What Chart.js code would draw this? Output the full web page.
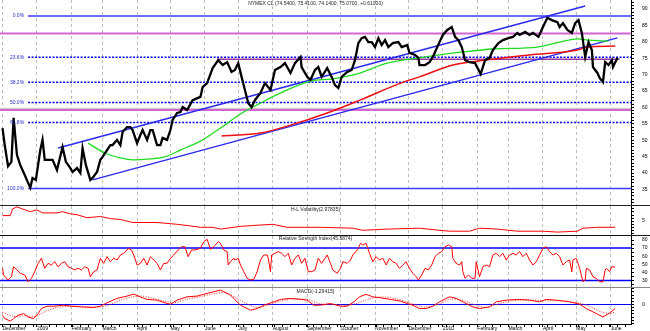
<!DOCTYPE html>
<html lang="en">
<head>
  <meta charset="UTF-8">
  <title>NYMEX CL</title>
  <script src="https://cdn.jsdelivr.net/npm/chart.js"></script>
  <style>
    body { margin: 0; background: #fff; }
    #wrap { position: relative; width: 650px; height: 331px; }
    .panel { position: absolute; left: 0; width: 650px; }
  </style>
</head>
<body>
<div id="wrap">
  <div class="panel" style="top:0;height:206px"><canvas id="priceChart"></canvas></div>
  <div class="panel" style="top:206px;height:30px"><canvas id="volChart"></canvas></div>
  <div class="panel" style="top:236px;height:52px"><canvas id="rsiChart"></canvas></div>
  <div class="panel" style="top:288px;height:43px"><canvas id="macdChart"></canvas></div>
</div>

<script>
  // x unit: calendar days since 1 Dec 2008
  const monthDays = [0, 31, 62, 90, 121, 151, 182, 212, 243, 274, 304, 335, 365, 396, 427, 455, 486, 516, 547];
  const monthLabels = ['December', '2009', 'February', 'March', 'April', 'May', 'June', 'July', 'August',
    'September', 'October', 'November', 'December', '2010', 'February', 'March', 'April', 'May', 'June'];

  const priceDays = [0,2,5,8,10,13,16,20,23,25,27,30,34,36,38,43,45,49,54,57,61,63,67,70,72,75,79,81,85,88,90,94,97,99,103,106,108,112,115,117,121,124,126,130,133,135,139,142,144,148,151,153,157,160,162,166,171,178,180,184,189,194,198,202,206,209,212,215,218,221,224,227,232,236,241,245,250,254,259,263,268,269,274,277,281,284,287,292,296,299,302,305,310,314,317,320,323,326,329,332,335,338,341,344,347,351,356,359,364,366,371,374,375,380,384,387,391,393,396,400,404,407,410,413,416,420,425,430,434,438,441,446,450,455,459,463,465,470,474,477,482,486,490,494,499,501,504,508,512,515,518,521,524,527,530,531,535,537,540,542,545,548,549,553];
  const priceClose = [53.7,48.5,42.1,43.4,56.8,45.5,42.4,39.4,37.0,35.5,38.5,37.9,47.0,50.1,44.0,44.0,44.0,40.9,47.9,43.4,41.5,40.3,41.5,40.0,47.6,42.4,37.9,38.5,40.3,44.0,44.9,47.0,48.5,48.5,50.1,48.5,52.5,54.0,54.0,53.1,49.1,51.6,53.1,50.1,53.1,53.1,48.5,48.5,50.7,50.1,53.1,56.2,58.3,58.6,60.1,59.2,62.2,63.2,66.2,67.4,72.0,74.4,72.9,73.8,70.8,71.4,73.5,69.3,65.3,61.3,60.1,62.2,64.4,67.4,65.3,71.4,72.3,73.5,70.5,73.5,75.4,72.3,69.3,68.4,71.4,72.3,69.3,72.0,69.3,66.8,65.9,69.3,70.8,71.4,74.4,79.6,81.1,81.5,79.9,79.9,78.4,81.1,79.0,80.5,78.4,79.6,79.9,78.4,79.0,76.6,76.0,75.1,72.9,72.9,73.8,75.4,78.4,79.9,82.1,83.6,84.5,81.5,80.5,78.4,74.4,73.8,73.5,70.2,74.4,75.1,77.5,79.6,80.5,81.1,81.5,82.7,82.1,83.0,82.1,82.7,81.5,84.5,87.3,86.6,86.0,84.5,85.7,83.6,82.7,85.7,86.6,82.7,75.4,79.9,77.5,72.3,70.5,69.0,67.7,73.8,72.9,74.4,72.3,75.1];

  const greenDays = [77,92,106,117,133,146,160,178,196,214,232,250,277,297,319,346,375,393,414,441,481,501,517,528,545];
  const greenValues = [49.1,46.1,44.6,44.0,44.3,44.9,47.0,49.7,53.7,58.0,61.3,64.4,68.0,68.7,70.2,73.5,75.1,76.0,76.9,77.8,78.4,79.9,80.9,80.5,80.2];
  const redDays = [197,232,259,292,322,358,375,405,436,474,517,526,551];
  const redValues = [51.3,52.2,54.6,58.3,62.3,67.4,69.3,72.9,74.5,76.0,77.5,78.4,78.7];

  const upperChannelDays = [50, 524];
  const upperChannelValues = [47.6, 90.9];
  const lowerChannelDays = [81, 553];
  const lowerChannelValues = [37.9, 81.2];
  const resistanceDays = [193, 555];
  const resistanceLevel = 74.7;

  const fibStartDay = 23;
  const fibLevels = [87.9, 75.3, 67.7, 61.5, 55.4, 35.3];
  const fibLabels = ['0.0%', '23.6%', '38.2%', '50.0%', '61.8%', '100.0%'];
  const magentaLevels = [82.5, 59.2];
  const greyLevel = 59.7;

  const volDays = [0,7,9,13,18,25,31,36,43,49,54,61,67,76,88,97,106,117,126,139,148,157,166,178,189,196,214,225,243,256,286,315,324,346,375,393,402,420,429,445,463,486,499,517,522,535,549,551];
  const volValues = [6.8,6.8,9.0,9.7,9.0,8.1,8.7,7.7,7.7,7.7,8.1,7.4,7.1,6.1,6.5,5.8,5.5,4.5,4.5,4.5,4.2,3.9,3.5,2.9,2.9,2.3,3.2,3.5,3.9,2.9,2.9,2.6,1.9,2.3,2.6,1.9,1.6,1.6,2.6,2.3,1.6,1.6,1.3,1.6,2.6,2.9,2.9,3.0];

  const rsiDays = [0,1,5,8,10,13,16,20,23,26,29,32,35,38,41,44,47,50,53,56,59,62,65,68,71,74,77,79,82,85,88,91,94,97,100,103,106,109,112,113,116,118,121,124,127,130,133,136,139,142,145,148,151,154,158,161,164,167,170,173,178,181,184,187,190,194,196,199,202,203,205,208,209,212,214,217,220,223,226,229,232,235,238,239,241,242,245,248,251,254,257,260,263,266,269,272,275,278,281,284,287,290,292,295,297,301,304,306,310,313,315,319,322,324,327,330,333,336,339,342,345,348,351,354,357,360,363,366,369,372,374,377,380,383,386,389,392,395,398,401,404,405,408,411,413,414,416,419,422,425,426,429,432,435,438,441,444,447,450,453,456,459,462,465,468,471,474,477,480,483,486,489,492,495,498,501,504,507,510,512,513,516,519,522,524,525,528,531,534,537,540,542,543,546,548,551];
  const rsiValues = [45.1,36.8,30.6,34.7,47.0,43.0,38.9,36.8,28.5,32.7,40.9,51.2,57.4,45.1,51.2,49.1,53.2,47.0,51.2,53.2,47.0,45.1,43.0,45.1,43.0,47.0,45.1,34.7,40.9,43.0,57.4,51.2,59.4,53.2,57.4,55.3,61.5,63.6,67.7,69.8,67.7,61.5,49.1,51.2,57.4,49.1,59.4,55.3,51.2,43.0,51.2,51.2,57.4,61.5,67.7,71.7,71.7,59.4,67.7,67.7,69.8,77.9,80.9,68.5,71.7,77.9,75.9,67.7,65.6,49.1,53.2,57.4,55.3,57.4,49.1,40.9,32.7,30.6,31.5,40.9,55.3,61.5,61.5,57.4,40.9,61.5,63.6,65.6,63.6,59.4,63.6,49.1,57.4,61.5,51.2,57.4,40.9,40.9,43.0,57.4,51.2,57.4,61.5,51.2,43.0,38.9,45.1,53.2,51.2,55.3,61.5,67.7,75.9,73.8,75.9,63.6,53.2,59.4,55.3,57.4,49.1,57.4,53.2,51.2,45.1,49.1,53.2,45.1,38.9,34.7,30.6,36.8,45.1,43.0,49.1,59.4,63.6,65.6,71.7,73.8,71.7,57.4,51.2,49.1,53.2,40.9,32.7,36.8,32.7,32.7,53.2,34.7,47.0,49.1,47.0,61.5,63.6,59.4,63.6,55.3,61.5,63.6,61.5,65.6,59.4,63.6,55.3,49.1,53.2,61.5,69.8,71.7,65.6,61.5,63.6,59.4,49.1,53.2,55.3,40.9,55.3,57.4,45.1,28.5,30.6,45.1,43.0,34.7,32.7,28.5,28.5,43.0,45.1,40.9,47.0,46.5];
  const rsiBands = [70, 30];

  const macdDays = [0,2,7,10,14,19,23,28,32,35,40,46,55,62,70,82,88,94,103,112,118,122,130,139,148,151,157,166,175,184,190,196,205,214,223,229,235,244,250,259,268,274,280,286,295,304,310,316,321,327,333,340,349,358,364,369,375,381,387,393,396,402,408,414,423,429,438,444,453,465,474,483,489,498,510,519,525,534,540,546,551];
  const macdValues = [-3.45,-4.5,-5.3,-4.5,-3.45,-2.9,-4.0,-4.5,-2.9,-1.3,-0.55,-0.55,-0.23,-0.55,-0.77,-0.97,-0.55,0.52,1.94,2.68,3.32,2.68,1.61,1.39,0.32,0.1,1.39,2.45,2.68,3.55,4.06,4.6,3.0,-0.23,-1.84,-1.29,-0.23,0.84,1.61,1.94,1.61,1.39,-0.23,-0.23,0.32,-0.55,-0.55,0.84,2.45,3.23,2.45,2.13,1.61,1.06,0.32,-0.23,-1.29,-1.29,-0.55,0.84,1.39,2.45,1.94,0.84,-0.77,-1.29,-0.77,0.84,1.39,1.61,1.39,0.84,1.61,1.39,0.84,0.1,-1.29,-2.9,-4.0,-2.7,-1.29];
  const signalDays = [0,10,20,30,40,50,65,85,95,105,115,125,135,145,155,165,178,190,200,210,220,230,240,250,262,275,285,298,310,320,330,342,355,368,380,392,402,412,425,435,445,458,475,490,505,518,528,538,546,551];
  const signalValues = [-2.5,-3.8,-3.6,-3.7,-2.0,-0.9,-0.5,-0.8,-0.2,1.2,2.3,2.7,2.0,1.1,0.6,1.6,2.5,3.4,3.8,2.2,0.2,-1.0,0.0,1.1,1.8,1.5,0.3,0.0,-0.3,0.5,1.8,2.4,1.7,0.3,-0.8,0.0,1.6,1.5,-0.1,-0.9,0.1,1.2,1.4,1.2,1.1,0.5,-0.6,-2.3,-2.9,-2.4];

  const X_MIN = -2.25, X_MAX = 565.2;
  const FONT = '"Liberation Sans", Arial, sans-serif';

  // weekly minor ticks along the bottom axis
  const weekDays = [];
  for (let d = 0; d <= X_MAX; d += 7) weekDays.push(d);
  const axisTickDays = [...new Set(weekDays.concat(monthDays))].sort((a, b) => a - b);

  function pts(days, values) {
    return days.map((d, i) => ({ x: d, y: values[i] }));
  }
  function line(data, color, width, extra) {
    return Object.assign({ data, borderColor: color, borderWidth: width, pointRadius: 0, fill: false, tension: 0 }, extra || {});
  }
  function level(from, to, y) {
    return [{ x: from, y }, { x: to, y }];
  }

  function xAxis(bottom) {
    return {
      type: 'linear', min: X_MIN, max: X_MAX,
      afterBuildTicks: s => { s.ticks = (bottom ? axisTickDays : monthDays).map(v => ({ value: v })); },
      afterFit: s => { s.paddingLeft = 0; s.paddingRight = 0; s.height = bottom ? 7 : 0; },
      ticks: {
        display: bottom, autoSkip: false, maxRotation: 0, align: 'start', padding: -1,
        font: { family: FONT, size: 5 }, color: '#000',
        callback: v => { const i = monthDays.indexOf(v); return i >= 0 ? monthLabels[i] : ''; }
      },
      grid: {
        color: c => (c.tick && monthDays.includes(c.tick.value)) ? '#bdbdbd' : 'rgba(0,0,0,0)',
        lineWidth: 1, drawTicks: bottom, tickLength: 3, tickColor: '#000'
      },
      border: { display: bottom, color: '#000', dash: [3, 3] }
    };
  }

  function yAxis(min, max, tickVals, labelVals) {
    return {
      position: 'right', min, max,
      afterBuildTicks: s => { s.ticks = tickVals.map(v => ({ value: v })); },
      afterFit: s => { s.width = 19; s.paddingTop = 0; s.paddingBottom = 0; },
      ticks: {
        autoSkip: false, padding: 8, color: '#000', font: { family: FONT, size: 5 },
        callback: v => labelVals.includes(v) ? String(v) : ''
      },
      grid: { drawOnChartArea: false, tickLength: 3, tickColor: '#000' },
      border: { color: '#000', width: 1 }
    };
  }

  const panelDecor = {
    id: 'panelDecor',
    afterDraw(chart, args, opts) {
      const { ctx, chartArea } = chart;
      ctx.save();
      if (opts.title) {
        ctx.font = '5px ' + FONT;
        ctx.fillStyle = '#222';
        ctx.textAlign = 'center';
        ctx.textBaseline = 'middle';
        ctx.fillText(opts.title, (chartArea.left + chartArea.right) / 2, chartArea.top + opts.titleY);
      }
      if (opts.bottomLine) {
        ctx.strokeStyle = opts.bottomLine;
        ctx.lineWidth = 1;
        ctx.beginPath();
        ctx.moveTo(0, chartArea.bottom - 0.5);
        ctx.lineTo(chart.width, chartArea.bottom - 0.5);
        ctx.stroke();
      }
      ctx.restore();
    }
  };

  const fibText = {
    id: 'fibText',
    afterDatasetsDraw(chart) {
      const { ctx, scales: { x, y } } = chart;
      ctx.save();
      ctx.font = '5px ' + FONT;
      ctx.fillStyle = '#2a2ad0';
      ctx.textAlign = 'right';
      ctx.textBaseline = 'middle';
      fibLevels.forEach((lv, i) => {
        ctx.fillText(fibLabels[i], x.getPixelForValue(fibStartDay) - 4, y.getPixelForValue(lv));
      });
      ctx.restore();
    }
  };

  function baseOptions(scales, decor) {
    return {
      responsive: true, maintainAspectRatio: false, animation: false, events: [],
      layout: { padding: 0 },
      plugins: { legend: { display: false }, tooltip: { enabled: false }, panelDecor: decor },
      scales
    };
  }

  const range = (a, b, step) => { const r = []; for (let v = a; v <= b; v += step) r.push(v); return r; };

  // ---- price panel ----
  const fibSets = fibLevels.map((lv, i) => {
    const solid = i === 0 || i === fibLevels.length - 1;
    return line(level(fibStartDay, X_MAX, lv), solid ? '#3b3bff' : '#0000ee', 1.5, solid ? {} : { borderDash: [2, 1.5] });
  });

  new Chart(document.getElementById('priceChart'), {
    type: 'line',
    data: {
      datasets: [
        line(pts(priceDays, priceClose), '#000', 2.3),
        line(pts(greenDays, greenValues), '#1fdc1f', 1.3, { tension: 0.4, cubicInterpolationMode: 'monotone' }),
        line(pts(redDays, redValues), '#ee1010', 1.5, { tension: 0.4, cubicInterpolationMode: 'monotone' }),
        line(pts(upperChannelDays, upperChannelValues), '#2a2aee', 1.5),
        line(pts(lowerChannelDays, lowerChannelValues), '#2a2aee', 1.5),
        line(level(resistanceDays[0], resistanceDays[1], resistanceLevel), '#9a3a9a', 1.5),
        ...fibSets,
        ...magentaLevels.map(lv => line(level(X_MIN, X_MAX, lv), '#d266d2', 2)),
        line(level(X_MIN, X_MAX, greyLevel), '#c8c8c8', 1)
      ]
    },
    options: baseOptions({
      x: xAxis(false),
      y: yAxis(29.94, 92.74, range(30, 92, 1), range(35, 90, 5))
    }, { title: 'NYMEX CL (74.5400, 75.4100, 74.1400, 75.0700, +0.61000)', titleY: 4, bottomLine: '#222' }),
    plugins: [panelDecor, fibText]
  });

  // ---- H-L volatility ----
  new Chart(document.getElementById('volChart'), {
    type: 'line',
    data: { datasets: [line(pts(volDays, volValues), '#ff0000', 1)] },
    options: baseOptions({
      x: xAxis(false),
      y: yAxis(0, 10, range(1, 9, 1), [5])
    }, { title: 'H-L Volatility(2.97835)', titleY: 4, bottomLine: '#111' }),
    plugins: [panelDecor]
  });

  // ---- RSI ----
  new Chart(document.getElementById('rsiChart'), {
    type: 'line',
    data: {
      datasets: [
        line(pts(rsiDays, rsiValues), '#ff0000', 1),
        ...rsiBands.map(lv => line(level(X_MIN, X_MAX, lv), '#0000ff', 1.5))
      ]
    },
    options: baseOptions({
      x: xAxis(false),
      y: yAxis(20.74, 84.94, range(25, 80, 5), range(30, 80, 10))
    }, { title: 'Relative Strength Index(45.5874)', titleY: 3, bottomLine: '#888' }),
    plugins: [panelDecor]
  });

  // ---- MACD ----
  new Chart(document.getElementById('macdChart'), {
    type: 'line',
    data: {
      datasets: [
        line(pts(macdDays, macdValues), '#ff0000', 1),
        line(pts(signalDays, signalValues), '#ff3030', 1, { borderDash: [1, 1.5], tension: 0.3 }),
        line(level(X_MIN, X_MAX, 0), '#0000ff', 1.2)
      ]
    },
    options: baseOptions({
      x: xAxis(true),
      y: yAxis(-6.23, 5.26, range(-6, 5, 1), [0])
    }, { title: 'MACD(-1.29415)', titleY: 3.5 }),
    plugins: [panelDecor]
  });
</script>
</body>
</html>
